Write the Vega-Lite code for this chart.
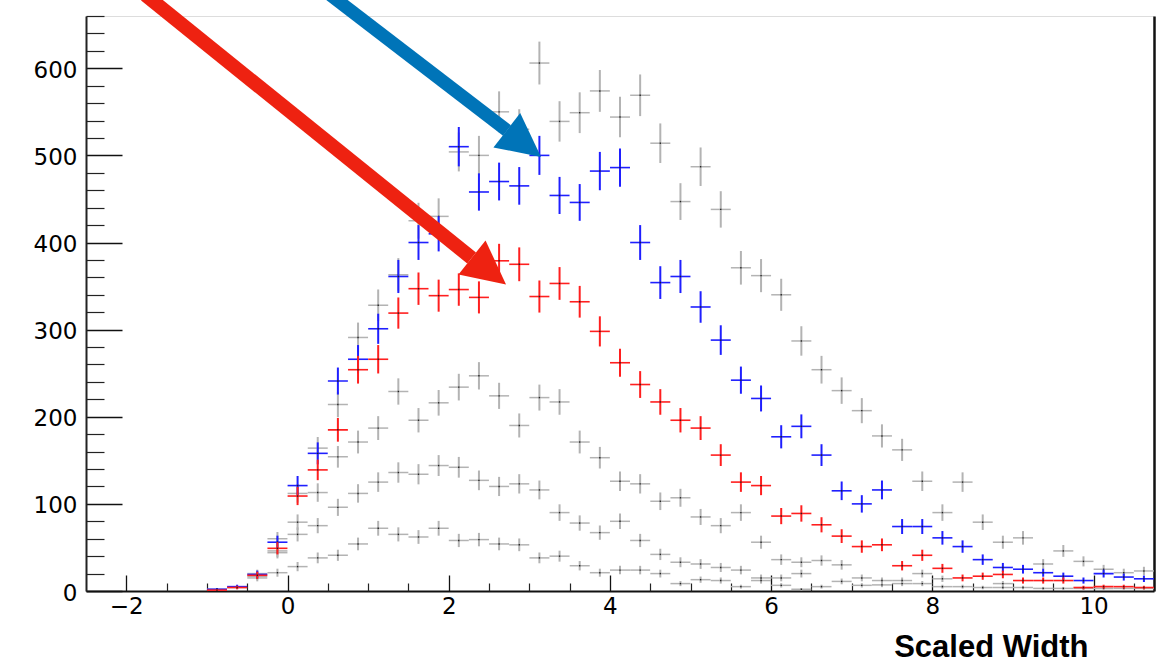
{
  "$schema": "https://vega.github.io/schema/vega-lite/v6.json",
  "width": 1068,
  "height": 575,
  "autosize": {"type": "none"},
  "padding": {"left": 86, "top": 16, "right": 20, "bottom": 72},
  "background": "white",
  "config": {"view": {"stroke": "#dddddd", "strokeWidth": 1}, "axis": {"grid": false}},
  "datasets": {
    "g": [
      {"x":-0.875,"y":2,"e":1.4},{"x":-0.625,"y":4,"e":2},{"x":-0.375,"y":20,"e":4.5},{"x":-0.125,"y":60,"e":7.7},{"x":0.125,"y":112,"e":10.6},{"x":0.375,"y":164,"e":12.8},{"x":0.625,"y":214,"e":14.6},{"x":0.875,"y":291,"e":17.1},{"x":1.125,"y":328,"e":18.1},{"x":1.375,"y":363,"e":19.1},{"x":1.625,"y":425,"e":20.6},{"x":1.875,"y":430,"e":20.7},{"x":2.125,"y":504,"e":22.4},{"x":2.375,"y":500,"e":22.4},{"x":2.625,"y":550,"e":23.5},{"x":2.875,"y":530,"e":23},{"x":3.125,"y":606,"e":24.6},{"x":3.375,"y":539,"e":23.2},{"x":3.625,"y":549,"e":23.4},{"x":3.875,"y":574,"e":24},{"x":4.125,"y":544,"e":23.3},{"x":4.375,"y":569,"e":23.9},{"x":4.625,"y":514,"e":22.7},{"x":4.875,"y":447,"e":21.1},{"x":5.125,"y":487,"e":22.1},{"x":5.375,"y":438,"e":20.9},{"x":5.625,"y":371,"e":19.3},{"x":5.875,"y":362,"e":19},{"x":6.125,"y":340,"e":18.4},{"x":6.375,"y":287,"e":16.9},{"x":6.625,"y":254,"e":15.9},{"x":6.875,"y":230,"e":15.2},{"x":7.125,"y":207,"e":14.4},{"x":7.375,"y":178,"e":13.3},{"x":7.625,"y":162,"e":12.7},{"x":7.875,"y":126,"e":11.2},{"x":8.125,"y":90,"e":9.5},{"x":8.375,"y":125,"e":11.2},{"x":8.625,"y":79,"e":8.9},{"x":8.875,"y":56,"e":7.5},{"x":9.125,"y":61,"e":7.8},{"x":9.375,"y":31,"e":5.6},{"x":9.625,"y":46,"e":6.8},{"x":9.875,"y":34,"e":5.8},{"x":10.125,"y":25,"e":5},{"x":10.375,"y":21,"e":4.6},{"x":10.625,"y":23,"e":4.8},
      {"x":-0.375,"y":17,"e":4.1},{"x":-0.125,"y":46,"e":6.8},{"x":0.125,"y":79,"e":8.9},{"x":0.375,"y":113,"e":10.6},{"x":0.625,"y":154,"e":12.4},{"x":0.875,"y":171,"e":13.1},{"x":1.125,"y":187,"e":13.7},{"x":1.375,"y":229,"e":15.1},{"x":1.625,"y":196,"e":14},{"x":1.875,"y":216,"e":14.7},{"x":2.125,"y":234,"e":15.3},{"x":2.375,"y":247,"e":15.7},{"x":2.625,"y":224,"e":15},{"x":2.875,"y":190,"e":13.8},{"x":3.125,"y":222,"e":14.9},{"x":3.375,"y":217,"e":14.7},{"x":3.625,"y":171,"e":13.1},{"x":3.875,"y":153,"e":12.4},{"x":4.125,"y":126,"e":11.2},{"x":4.375,"y":123,"e":11.1},{"x":4.625,"y":103,"e":10.1},{"x":4.875,"y":107,"e":10.3},{"x":5.125,"y":85,"e":9.2},{"x":5.375,"y":75,"e":8.7},{"x":5.625,"y":90,"e":9.5},{"x":5.875,"y":56,"e":7.5},{"x":6.125,"y":36,"e":6},{"x":6.375,"y":33,"e":5.7},{"x":6.625,"y":35,"e":5.9},{"x":6.875,"y":30,"e":5.5},{"x":7.125,"y":15,"e":3.9},{"x":7.375,"y":12,"e":3.5},{"x":7.625,"y":12,"e":3.5},{"x":7.875,"y":20,"e":4.5},{"x":8.125,"y":14,"e":3.7},{"x":8.375,"y":5,"e":2.2},{"x":8.625,"y":4,"e":2},{"x":8.875,"y":8.5,"e":2.9},{"x":9.125,"y":4,"e":2},{"x":9.375,"y":3,"e":1.7},{"x":9.625,"y":3,"e":1.7},{"x":9.875,"y":3,"e":1.7},{"x":10.125,"y":3,"e":1.7},{"x":10.375,"y":3,"e":1.7},{"x":10.625,"y":3,"e":1.7},
      {"x":-0.375,"y":15,"e":3.9},{"x":-0.125,"y":44,"e":6.6},{"x":0.125,"y":65,"e":8.1},{"x":0.375,"y":75,"e":8.7},{"x":0.625,"y":96,"e":9.8},{"x":0.875,"y":112,"e":10.6},{"x":1.125,"y":125,"e":11.2},{"x":1.375,"y":136,"e":11.7},{"x":1.625,"y":134,"e":11.6},{"x":1.875,"y":144,"e":12},{"x":2.125,"y":142,"e":11.9},{"x":2.375,"y":127,"e":11.3},{"x":2.625,"y":120,"e":11},{"x":2.875,"y":123,"e":11.1},{"x":3.125,"y":116,"e":10.8},{"x":3.375,"y":90,"e":9.5},{"x":3.625,"y":78,"e":8.8},{"x":3.875,"y":67,"e":8.2},{"x":4.125,"y":80,"e":8.9},{"x":4.375,"y":58,"e":7.6},{"x":4.625,"y":42,"e":6.5},{"x":4.875,"y":33,"e":5.7},{"x":5.125,"y":31,"e":5.6},{"x":5.375,"y":27,"e":5.2},{"x":5.625,"y":24,"e":4.9},{"x":5.875,"y":15,"e":3.9},{"x":6.125,"y":15,"e":3.9},{"x":6.375,"y":20,"e":4.5},{"x":6.625,"y":5,"e":2.2},{"x":6.875,"y":11,"e":3.3},{"x":7.125,"y":6.5,"e":2.5},{"x":7.375,"y":7,"e":2.6},{"x":7.625,"y":8.5,"e":2.9},{"x":7.875,"y":8.5,"e":2.9},{"x":8.125,"y":5,"e":2.2},{"x":8.875,"y":4,"e":2},
      {"x":-0.125,"y":21,"e":4.6},{"x":0.125,"y":28,"e":5.3},{"x":0.375,"y":38,"e":6.2},{"x":0.625,"y":41,"e":6.4},{"x":0.875,"y":54,"e":7.3},{"x":1.125,"y":72,"e":8.5},{"x":1.375,"y":65,"e":8.1},{"x":1.625,"y":62,"e":7.9},{"x":1.875,"y":72,"e":8.5},{"x":2.125,"y":58,"e":7.6},{"x":2.375,"y":59,"e":7.7},{"x":2.625,"y":54,"e":7.3},{"x":2.875,"y":53,"e":7.3},{"x":3.125,"y":38,"e":6.2},{"x":3.375,"y":40,"e":6.3},{"x":3.625,"y":29,"e":5.4},{"x":3.875,"y":21,"e":4.6},{"x":4.125,"y":24,"e":4.9},{"x":4.375,"y":24,"e":4.9},{"x":4.625,"y":20,"e":4.5},{"x":4.875,"y":8.5,"e":2.9},{"x":5.125,"y":13,"e":3.6},{"x":5.375,"y":12,"e":3.5},{"x":5.625,"y":5,"e":2.2},{"x":5.875,"y":12,"e":3.5},{"x":6.125,"y":6.5,"e":2.5},{"x":6.375,"y":2,"e":1.4}
    ],
    "r": [
      {"x":-0.875,"y":1,"e":1},{"x":-0.625,"y":4,"e":2},{"x":-0.375,"y":18,"e":4.2},{"x":-0.125,"y":49,"e":7},{"x":0.125,"y":109,"e":10.4},{"x":0.375,"y":139,"e":11.8},{"x":0.625,"y":185,"e":13.6},{"x":0.875,"y":254,"e":15.9},{"x":1.125,"y":266,"e":16.3},{"x":1.375,"y":319,"e":17.9},{"x":1.625,"y":347,"e":18.6},{"x":1.875,"y":339,"e":18.4},{"x":2.125,"y":346,"e":18.6},{"x":2.375,"y":337,"e":18.4},{"x":2.625,"y":379,"e":19.5},{"x":2.875,"y":375,"e":19.4},{"x":3.125,"y":338,"e":18.4},{"x":3.375,"y":353,"e":18.8},{"x":3.625,"y":332,"e":18.2},{"x":3.875,"y":298,"e":17.3},{"x":4.125,"y":262,"e":16.2},{"x":4.375,"y":237,"e":15.4},{"x":4.625,"y":217,"e":14.7},{"x":4.875,"y":196,"e":14},{"x":5.125,"y":187,"e":13.7},{"x":5.375,"y":156,"e":12.5},{"x":5.625,"y":125,"e":11.2},{"x":5.875,"y":121,"e":11},{"x":6.125,"y":86,"e":9.3},{"x":6.375,"y":89,"e":9.4},{"x":6.625,"y":76,"e":8.7},{"x":6.875,"y":63,"e":7.9},{"x":7.125,"y":51,"e":7.1},{"x":7.375,"y":53,"e":7.3},{"x":7.625,"y":29,"e":5.4},{"x":7.875,"y":41,"e":6.4},{"x":8.125,"y":26,"e":5.1},{"x":8.375,"y":15,"e":3.9},{"x":8.625,"y":17,"e":4.1},{"x":8.875,"y":19,"e":4.4},{"x":9.125,"y":12,"e":3.5},{"x":9.375,"y":12,"e":3.5},{"x":9.625,"y":12,"e":3.5},{"x":9.875,"y":4,"e":2},{"x":10.125,"y":5,"e":2.2},{"x":10.375,"y":5,"e":2.2},{"x":10.625,"y":4,"e":2}
    ],
    "b": [
      {"x":-0.875,"y":2,"e":1.4},{"x":-0.625,"y":5,"e":2.2},{"x":-0.375,"y":19,"e":4.4},{"x":-0.125,"y":56,"e":7.5},{"x":0.125,"y":121,"e":11},{"x":0.375,"y":158,"e":12.6},{"x":0.625,"y":241,"e":15.5},{"x":0.875,"y":266,"e":16.3},{"x":1.125,"y":301,"e":17.3},{"x":1.375,"y":361,"e":19},{"x":1.625,"y":400,"e":20},{"x":1.875,"y":410,"e":20.2},{"x":2.125,"y":510,"e":22.6},{"x":2.375,"y":458,"e":21.4},{"x":2.625,"y":470,"e":21.7},{"x":2.875,"y":465,"e":21.6},{"x":3.125,"y":500,"e":22.4},{"x":3.375,"y":454,"e":21.3},{"x":3.625,"y":446,"e":21.1},{"x":3.875,"y":482,"e":22},{"x":4.125,"y":486,"e":22},{"x":4.375,"y":400,"e":20},{"x":4.625,"y":354,"e":18.8},{"x":4.875,"y":361,"e":19},{"x":5.125,"y":326,"e":18.1},{"x":5.375,"y":288,"e":17},{"x":5.625,"y":242,"e":15.6},{"x":5.875,"y":221,"e":14.9},{"x":6.125,"y":177,"e":13.3},{"x":6.375,"y":189,"e":13.7},{"x":6.625,"y":156,"e":12.5},{"x":6.875,"y":115,"e":10.7},{"x":7.125,"y":100,"e":10},{"x":7.375,"y":116,"e":10.8},{"x":7.625,"y":74,"e":8.6},{"x":7.875,"y":74,"e":8.6},{"x":8.125,"y":61,"e":7.8},{"x":8.375,"y":51,"e":7.1},{"x":8.625,"y":36,"e":6},{"x":8.875,"y":27,"e":5.2},{"x":9.125,"y":25,"e":5},{"x":9.375,"y":21,"e":4.6},{"x":9.625,"y":17,"e":4.1},{"x":9.875,"y":12,"e":3.5},{"x":10.125,"y":20,"e":4.5},{"x":10.375,"y":16,"e":4},{"x":10.625,"y":14,"e":3.7}
    ]
  },
  "resolve": {"axis": {"x": "independent", "y": "independent"}},
  "layer": [
    {
      "data": {"name": "g"},
      "mark": {"type": "point", "opacity": 0},
      "encoding": {
        "x": {"field": "x", "type": "quantitative", "scale": {"domain": [-2.5, 10.75], "nice": false, "zero": false},
          "axis": {"orient": "bottom", "values": [-2, 0, 2, 4, 6, 8, 10], "tickSize": -16, "tickWidth": 1.3, "tickColor": "#111111",
            "domain": true, "domainColor": "#111111", "domainWidth": 2, "labelFont": "DejaVu Sans", "labelFontSize": 23, "labelColor": "#000000",
            "labelPadding": 20, "labelFlush": false, "labelOverlap": false, "grid": false,
            "title": "Scaled Width", "titleFont": "Liberation Sans", "titleFontWeight": "bold", "titleFontSize": 31, "titleColor": "#000000",
            "titleAlign": "right", "titleBaseline": "alphabetic", "titleX": 1002, "titleY": 65.5, "titleAnchor": "end"}},
        "y": {"field": "y", "type": "quantitative", "scale": {"domain": [0, 660], "nice": false, "zero": false},
          "axis": {"orient": "left", "values": [0, 100, 200, 300, 400, 500, 600], "tickSize": -36, "tickWidth": 1.3, "tickColor": "#111111",
            "domain": true, "domainColor": "#222222", "domainWidth": 2, "labelFont": "DejaVu Sans", "labelFontSize": 23, "labelColor": "#000000",
            "labelPadding": 45, "labelOffset": 2, "labelFlush": false, "labelOverlap": false, "grid": false, "title": null}}
      }
    },
    {
      "data": {"name": "g"},
      "mark": {"type": "point", "opacity": 0},
      "encoding": {
        "x": {"field": "x", "type": "quantitative", "scale": {"domain": [-2.5, 10.75], "nice": false, "zero": false},
          "axis": {"orient": "bottom", "values": [-1.5, -1, -0.5, 0.5, 1, 1.5, 2.5, 3, 3.5, 4.5, 5, 5.5, 6.5, 7, 7.5, 8.5, 9, 9.5, 10.5],
            "tickSize": -8, "tickWidth": 1.2, "tickColor": "#222222", "domain": false, "labels": false, "grid": false, "title": null}},
        "y": {"field": "y", "type": "quantitative", "scale": {"domain": [0, 660], "nice": false, "zero": false},
          "axis": {"orient": "left", "values": [20, 40, 60, 80, 120, 140, 160, 180, 220, 240, 260, 280, 320, 340, 360, 380, 420, 440, 460, 480, 520, 540, 560, 580, 620, 640, 660],
            "tickSize": -18, "tickWidth": 1.2, "tickColor": "#222222", "domain": false, "labels": false, "grid": false, "title": null}}
      }
    },
    {
      "data": {"name": "g"},
      "mark": {"type": "point", "opacity": 0},
      "encoding": {
        "x": {"field": "x", "type": "quantitative", "scale": {"domain": [-2.5, 10.75], "nice": false, "zero": false}, "axis": null},
        "y": {"field": "y", "type": "quantitative", "scale": {"domain": [0, 660], "nice": false, "zero": false},
          "axis": {"orient": "right", "ticks": false, "labels": false, "domain": true, "domainColor": "#111111", "domainWidth": 2.5, "grid": false, "title": null}}
      }
    },
    {
      "data": {"name": "g"},
      "encoding": {
        "x": {"field": "x", "type": "quantitative", "scale": {"domain": [-2.5, 10.75], "nice": false, "zero": false}, "axis": null},
        "y": {"field": "y", "type": "quantitative", "scale": {"domain": [0, 660], "nice": false, "zero": false}, "axis": null}
      },
      "layer": [
        {"mark": {"type": "errorbar", "color": "#b3b3b3", "thickness": 2}, "encoding": {"yError": {"field": "e"}}},
        {"mark": {"type": "tick", "orient": "horizontal", "size": 20, "thickness": 1.5, "color": "#b3b3b3", "opacity": 1}},
        {"mark": {"type": "point", "shape": "square", "size": 2, "filled": true, "color": "#222222", "opacity": 1}}
      ]
    },
    {
      "data": {"name": "b"},
      "encoding": {
        "x": {"field": "x", "type": "quantitative", "scale": {"domain": [-2.5, 10.75], "nice": false, "zero": false}, "axis": null},
        "y": {"field": "y", "type": "quantitative", "scale": {"domain": [0, 660], "nice": false, "zero": false}, "axis": null}
      },
      "layer": [
        {"mark": {"type": "errorbar", "color": "#1f1fff", "thickness": 2}, "encoding": {"yError": {"field": "e"}}},
        {"mark": {"type": "tick", "orient": "horizontal", "size": 20, "thickness": 1.6, "color": "#1f1fff", "opacity": 1}},
        {"mark": {"type": "point", "shape": "square", "size": 2, "filled": true, "color": "#222222", "opacity": 1}}
      ]
    },
    {
      "data": {"name": "r"},
      "encoding": {
        "x": {"field": "x", "type": "quantitative", "scale": {"domain": [-2.5, 10.75], "nice": false, "zero": false}, "axis": null},
        "y": {"field": "y", "type": "quantitative", "scale": {"domain": [0, 660], "nice": false, "zero": false}, "axis": null}
      },
      "layer": [
        {"mark": {"type": "errorbar", "color": "#ff1f1f", "thickness": 2}, "encoding": {"yError": {"field": "e"}}},
        {"mark": {"type": "tick", "orient": "horizontal", "size": 20, "thickness": 1.6, "color": "#ff1f1f", "opacity": 1}},
        {"mark": {"type": "point", "shape": "square", "size": 2, "filled": true, "color": "#222222", "opacity": 1}}
      ]
    },
    {
      "data": {"values": [{"x": 0.533, "y": 684.1, "x2": 2.723, "y2": 528.6}]},
      "mark": {"type": "rule", "color": "#0074b8", "strokeWidth": 13, "clip": false},
      "encoding": {
        "x": {"field": "x", "type": "quantitative", "scale": {"domain": [-2.5, 10.75], "nice": false, "zero": false}, "axis": null},
        "y": {"field": "y", "type": "quantitative", "scale": {"domain": [0, 660], "nice": false, "zero": false}, "axis": null},
        "x2": {"field": "x2"},
        "y2": {"field": "y2"}
      }
    },
    {
      "data": {"values": [{"x": 2.933, "y": 513.5}]},
      "mark": {"type": "point", "shape": "M0,-1L1,1L-1,1Z", "angle": 128, "size": 1890, "filled": true, "color": "#0074b8", "opacity": 1, "strokeWidth": 0, "clip": false},
      "encoding": {
        "x": {"field": "x", "type": "quantitative", "scale": {"domain": [-2.5, 10.75], "nice": false, "zero": false}, "axis": null},
        "y": {"field": "y", "type": "quantitative", "scale": {"domain": [0, 660], "nice": false, "zero": false}, "axis": null}
      }
    },
    {
      "data": {"values": [{"x": -1.762, "y": 684.1, "x2": 2.284, "y2": 382.2}]},
      "mark": {"type": "rule", "color": "#ee2211", "strokeWidth": 14, "clip": false},
      "encoding": {
        "x": {"field": "x", "type": "quantitative", "scale": {"domain": [-2.5, 10.75], "nice": false, "zero": false}, "axis": null},
        "y": {"field": "y", "type": "quantitative", "scale": {"domain": [0, 660], "nice": false, "zero": false}, "axis": null},
        "x2": {"field": "x2"},
        "y2": {"field": "y2"}
      }
    },
    {
      "data": {"values": [{"x": 2.5, "y": 367.3}]},
      "mark": {"type": "point", "shape": "M0,-1L1,1L-1,1Z", "angle": 128.5, "size": 1890, "filled": true, "color": "#ee2211", "opacity": 1, "strokeWidth": 0, "clip": false},
      "encoding": {
        "x": {"field": "x", "type": "quantitative", "scale": {"domain": [-2.5, 10.75], "nice": false, "zero": false}, "axis": null},
        "y": {"field": "y", "type": "quantitative", "scale": {"domain": [0, 660], "nice": false, "zero": false}, "axis": null}
      }
    }
  ]
}
